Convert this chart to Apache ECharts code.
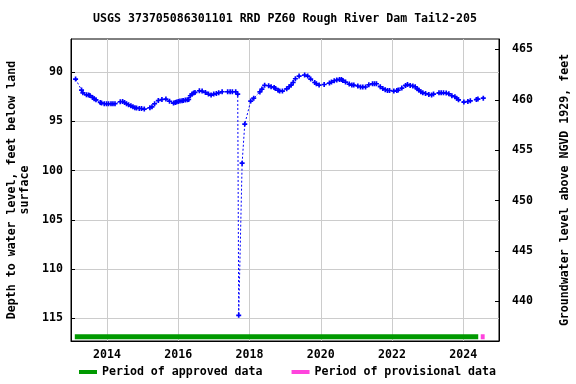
<!DOCTYPE html>
<html>
<head>
<meta charset="utf-8">
<script src="https://cdn.jsdelivr.net/npm/echarts@6/dist/echarts.min.js"></script>
<style>html,body{margin:0;padding:0;background:#fff}#c{width:576px;height:384px}</style>
</head>
<body>
<div id="c"></div>
<script>
var titleText = 'USGS 373705086301101 RRD PZ60 Rough River Dam Tail2-205';
var leftAxisName = 'Depth to water level, feet below land\nsurface';
var rightAxisName = 'Groundwater level above NGVD 1929, feet';
var approvedName = 'Period of approved data';
var provisionalName = 'Period of provisional data';

var dates = ['2013-02-13','2013-04-15','2013-04-29','2013-06-05','2013-06-26','2013-07-10','2013-08-06','2013-08-23','2013-09-10','2013-10-24',
'2013-11-06','2013-12-04','2013-12-27','2014-01-17','2014-02-11','2014-03-03','2014-03-24','2014-05-17','2014-06-10','2014-06-30',
'2014-07-20','2014-08-10','2014-09-03','2014-09-24','2014-10-14','2014-10-31','2014-11-28','2014-12-21','2015-01-18','2015-03-17',
'2015-04-07','2015-05-04','2015-06-11','2015-07-18','2015-08-28','2015-10-04','2015-11-14','2015-12-01','2015-12-15','2016-01-01',
'2016-01-19','2016-02-09','2016-02-22','2016-03-14','2016-04-03','2016-04-17','2016-05-04','2016-05-22','2016-06-07','2016-06-21',
'2016-08-05','2016-09-02','2016-10-06','2016-11-06','2016-12-03','2016-12-30','2017-01-26','2017-02-19','2017-03-26','2017-05-22',
'2017-06-16','2017-07-09','2017-08-12','2017-09-02','2017-09-12','2017-10-17','2017-11-13','2018-01-13','2018-02-13','2018-04-17',
'2018-05-08','2018-06-05','2018-07-16','2018-08-10','2018-09-10','2018-09-23','2018-10-21','2018-11-06','2018-12-04','2019-01-17',
'2019-02-11','2019-03-03','2019-03-24','2019-04-16','2019-05-24','2019-07-20','2019-08-20','2019-09-20','2019-10-31','2019-11-17',
'2019-12-15','2020-02-05','2020-03-30','2020-04-20','2020-05-18','2020-06-13','2020-07-11','2020-07-31','2020-08-14','2020-09-11',
'2020-10-19','2020-11-15','2020-12-05','2021-01-15','2021-02-12','2021-03-07','2021-04-04','2021-05-08','2021-06-15','2021-07-05',
'2021-07-25','2021-09-02','2021-09-28','2021-10-23','2021-11-15','2021-12-06','2022-01-19','2022-02-19','2022-03-05','2022-04-11',
'2022-05-19','2022-06-08','2022-07-06','2022-08-02','2022-08-26','2022-09-16','2022-10-02','2022-10-23','2022-11-12','2022-12-10',
'2023-01-13','2023-02-10','2023-03-02','2023-04-27','2023-05-19','2023-06-12','2023-07-10','2023-08-06','2023-09-06','2023-10-07',
'2023-10-24','2023-11-13','2024-01-07','2024-02-17','2024-03-13','2024-05-14','2024-05-30','2024-07-24'];

var depths = [90.69,91.81,92.09,92.29,92.32,92.36,92.56,92.69,92.80,93.07,
93.13,93.20,93.20,93.20,93.20,93.20,93.20,93.00,92.97,93.07,
93.20,93.30,93.41,93.51,93.61,93.64,93.68,93.68,93.74,93.61,
93.51,93.20,92.87,92.77,92.73,92.95,93.13,93.07,93.03,92.97,
92.93,92.90,92.87,92.83,92.80,92.77,92.39,92.22,92.12,92.05,
91.88,91.91,92.05,92.22,92.32,92.22,92.16,92.09,91.98,91.98,
91.98,91.98,91.98,92.22,114.70,99.24,95.27,92.93,92.63,92.00,
91.71,91.32,91.37,91.47,91.54,91.65,91.83,91.91,91.91,91.68,
91.47,91.30,91.04,90.66,90.39,90.28,90.39,90.69,91.04,91.17,
91.30,91.24,91.10,91.00,90.86,90.79,90.73,90.73,90.83,91.00,
91.20,91.30,91.30,91.40,91.50,91.50,91.50,91.27,91.17,91.17,
91.17,91.47,91.65,91.78,91.85,91.85,91.91,91.85,91.81,91.61,
91.34,91.24,91.34,91.40,91.47,91.68,91.81,91.98,92.09,92.16,
92.26,92.30,92.22,92.09,92.09,92.09,92.12,92.19,92.39,92.49,
92.63,92.80,93.03,92.97,92.90,92.77,92.73,92.63];

var approvedPeriod = ['2013-02-05','2024-06-02'];
var provisionalPeriod = ['2024-06-28','2024-08-07'];
var periodBarDepth = 116.87;

var xTickYears = [2014,2016,2018,2020,2022,2024];
var leftTicks = [90,95,100,105,110,115];
var rightTicks = [440,445,450,455,460,465];

var xMin = '2012-12-28', xMax = '2025-01-01';
var depthMin = 86.62, depthMax = 117.31;
var elevMin = 436.06, elevMax = 466.03;

var FONT = 'DejaVu Sans Mono';
var txt = {fontFamily: FONT, fontWeight: 'bold', fontSize: 11.6, color: '#000'};

function ts(s) { var p = s.split('-'); return Date.UTC(+p[0], +p[1] - 1, +p[2]); }

var chart = echarts.init(document.getElementById('c'), null, {renderer: 'canvas'});
var xTickValues = xTickYears.map(function (y) { return Date.UTC(y, 0, 1); });
var lineData = dates.map(function (d, i) { return [ts(d), depths[i]]; });
var plus = 'path://M1,0H2V1H3V2H2V3H1V2H0V1H1Z';

chart.setOption({
  animation: false,
  title: {
    text: titleText, left: 285, top: 13, textAlign: 'center', padding: 0,
    textStyle: Object.assign({}, txt)
  },
  grid: {left: 71, top: 39, width: 428, height: 302, show: true, borderColor: '#000', borderWidth: 1,
    containLabel: false, outerBoundsMode: 'none'},
  legend: {
    left: 79, top: 366, padding: 0, itemWidth: 18, itemHeight: 4, itemGap: 29, icon: 'rect',
    textStyle: Object.assign({}, txt),
    data: [approvedName, provisionalName]
  },
  xAxis: {
    type: 'value', min: ts(xMin), max: ts(xMax),
    axisLine: {show: true, lineStyle: {color: '#000'}},
    axisTick: {show: false, customValues: xTickValues},
    axisLabel: Object.assign({}, txt, {customValues: xTickValues, margin: 8,
      formatter: function (v) { return String(new Date(v).getUTCFullYear()); }}),
    splitLine: {show: true, lineStyle: {color: '#cccccc', width: 1}}
  },
  yAxis: [{
    type: 'value', inverse: true, min: depthMin, max: depthMax, position: 'left',
    name: leftAxisName, nameLocation: 'middle', nameGap: 40, nameRotate: 90,
    nameTextStyle: Object.assign({}, txt, {lineHeight: 13}),
    axisLine: {show: true, lineStyle: {color: '#000'}},
    axisTick: {show: true, inside: true, length: 4, customValues: leftTicks, lineStyle: {color: '#000'}},
    axisLabel: Object.assign({}, txt, {customValues: leftTicks, margin: 8}),
    splitLine: {show: true, lineStyle: {color: '#cccccc', width: 1}}
  }, {
    type: 'value', min: elevMin, max: elevMax, position: 'right',
    name: rightAxisName, nameLocation: 'middle', nameGap: 60, nameRotate: 90,
    nameTextStyle: Object.assign({}, txt),
    axisLine: {show: true, lineStyle: {color: '#000'}},
    axisTick: {show: true, inside: true, length: 4, customValues: rightTicks, lineStyle: {color: '#000'}},
    axisLabel: Object.assign({}, txt, {customValues: rightTicks, margin: 13}),
    splitLine: {show: false}
  }],
  series: [{
    name: 'Depth', type: 'line', yAxisIndex: 0, data: lineData,
    color: '#0000ff',
    lineStyle: {color: '#0000ff', width: 1, type: [2, 2]},
    symbol: plus, symbolSize: 5, showSymbol: true,
    itemStyle: {color: '#0000ff'}, z: 3
  }, {
    name: approvedName, type: 'line', yAxisIndex: 0, color: '#009900',
    data: approvedPeriod.map(function (d) { return [ts(d), periodBarDepth]; }),
    lineStyle: {color: '#009900', width: 5, cap: 'butt'}, symbol: 'none', itemStyle: {color: '#009900'}
  }, {
    name: provisionalName, type: 'line', yAxisIndex: 0, color: '#ff44dd',
    data: provisionalPeriod.map(function (d) { return [ts(d), periodBarDepth]; }),
    lineStyle: {color: '#ff44dd', width: 5, cap: 'butt'}, symbol: 'none', itemStyle: {color: '#ff44dd'}
  }]
});
</script>
</body>
</html>
